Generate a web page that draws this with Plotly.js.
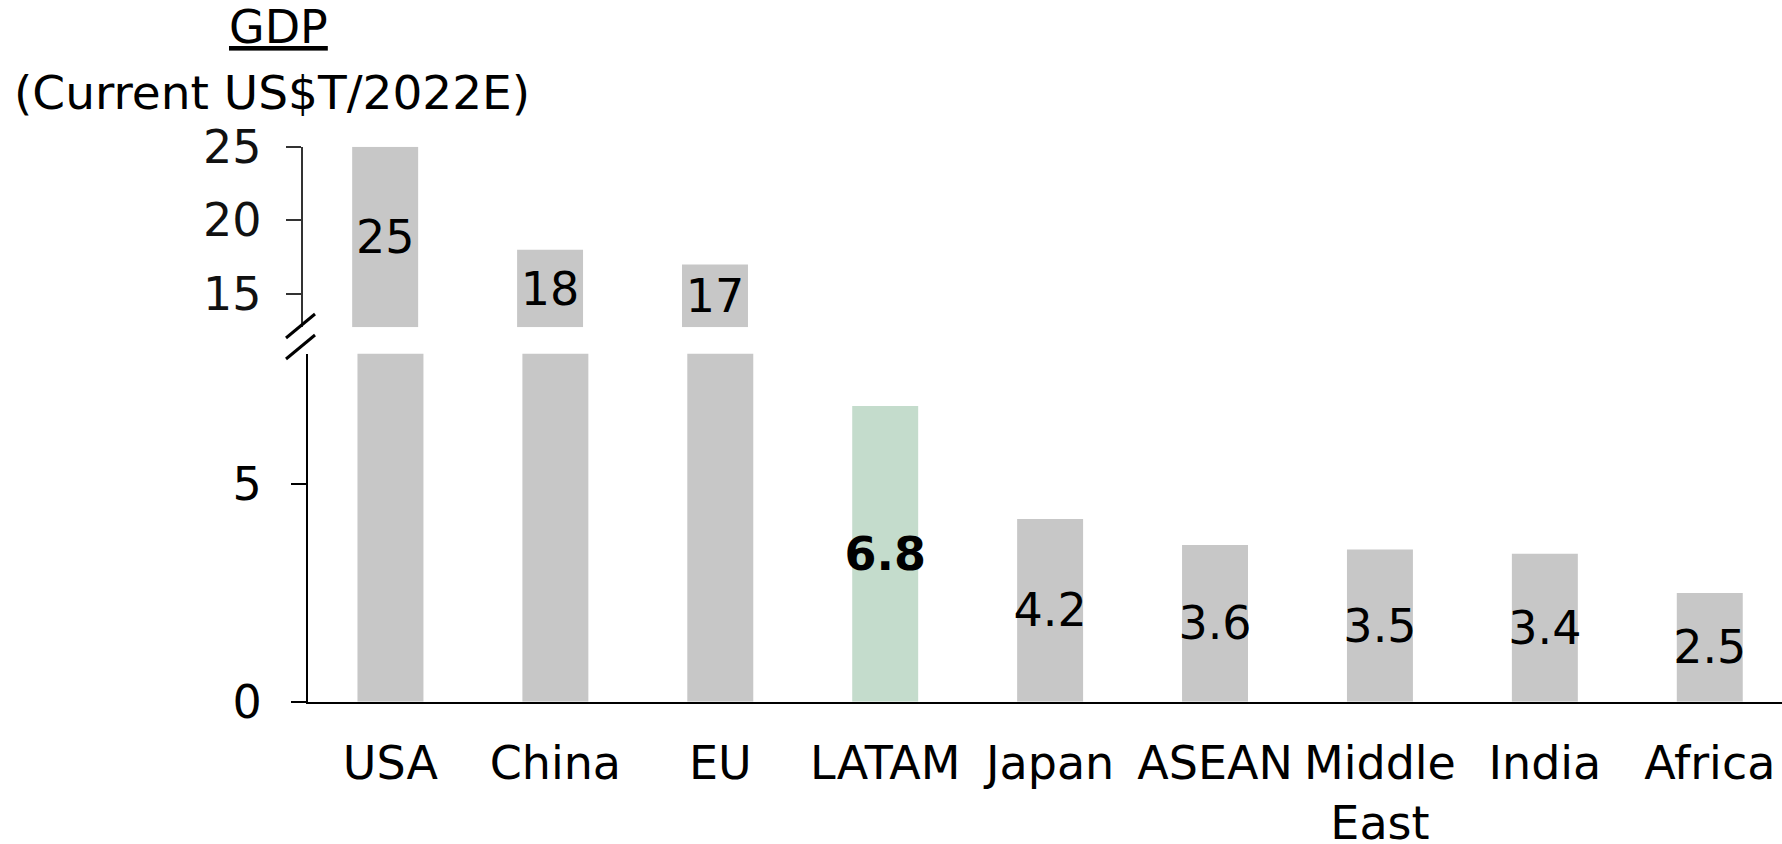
<!DOCTYPE html>
<html>
<head>
<meta charset="utf-8">
<script src="https://cdn.plot.ly/plotly-3.0.1.min.js"></script>
<style>
  html, body { margin: 0; padding: 0; background: #ffffff; }
  #chart { width: 1782px; height: 844px; }
</style>
</head>
<body>
<div id="chart"></div>
<script>
  // data
  const REGIONS = ["USA", "China", "EU", "LATAM", "Japan", "ASEAN", "Middle<br>East", "India", "Africa"];
  const GDP = [25, 18, 17, 6.8, 4.2, 3.6, 3.5, 3.4, 2.5];
  const BROKEN = ["USA", "China", "EU"]; // bars that run through the axis break
  const HIGHLIGHT = "LATAM";
  const LOW_TICKS = [0, 5];
  const TOP_TICKS = [15, 20, 25];

  (function () {
    "use strict";

    const W = 1782;
    const H = 844;
    const FONT = "DejaVu Sans, Verdana, sans-serif";
    const GREY = "#c7c7c7";
    const GREEN = "#c4dccc";
    const INK = "#000000";
    const LOW_RANGE = [0, 8];
    const TOP_RANGE = [12.74, 25];

    // pixel helpers for paper coordinates
    const px = (x) => x / W;
    const py = (y) => 1 - y / H;

    const isBroken = (r) => BROKEN.indexOf(r) >= 0;
    const label = (r, v) => (isBroken(r) ? "" : r === HIGHLIGHT ? "<b>" + v + "</b>" : String(v));

    const barText = {
      textposition: "inside",
      insidetextanchor: "middle",
      constraintext: "none",
      textangle: 0,
      insidetextfont: { family: FONT, size: 46, color: INK },
      hoverinfo: "skip"
    };

    const lower = Object.assign({
      type: "bar",
      x: REGIONS,
      y: GDP,
      width: 0.4,
      marker: { color: REGIONS.map((r) => (r === HIGHLIGHT ? GREEN : GREY)) },
      text: REGIONS.map((r, i) => label(r, GDP[i])),
      xaxis: "x",
      yaxis: "y"
    }, barText);

    // upper panel: bars start at the bottom of the cut axis so the labels sit in the visible part
    const upperVals = BROKEN.map((r) => GDP[REGIONS.indexOf(r)]);
    const upper = Object.assign({
      type: "bar",
      x: BROKEN,
      y: upperVals.map((v) => v - TOP_RANGE[0]),
      base: TOP_RANGE[0],
      width: 0.4,
      marker: { color: GREY },
      text: upperVals.map(String),
      xaxis: "x2",
      yaxis: "y2"
    }, barText);

    const catAxis = {
      type: "category",
      categoryorder: "array",
      categoryarray: REGIONS,
      range: [-0.5, 8.438],
      fixedrange: true
    };

    const layout = {
      width: W,
      height: H,
      autosize: false,
      margin: { l: 0, r: 0, t: 0, b: 0 },
      paper_bgcolor: "#ffffff",
      plot_bgcolor: "#ffffff",
      showlegend: false,
      font: { family: FONT, size: 46, color: INK },
      xaxis: Object.assign({}, catAxis, {
        domain: [px(308), 1],
        anchor: "y",
        showline: true,
        linecolor: INK,
        linewidth: 2,
        ticks: "",
        ticklabelstandoff: 20,
        tickfont: { family: FONT, size: 46, color: INK }
      }),
      yaxis: {
        domain: [py(701.7), py(353.7)],
        range: LOW_RANGE,
        anchor: "x",
        tickvals: LOW_TICKS,
        ticks: "outside",
        ticklen: 15,
        tickwidth: 2,
        tickcolor: INK,
        showline: true,
        linecolor: INK,
        linewidth: 2,
        showgrid: false,
        zeroline: false,
        ticklabelstandoff: 20,
        tickfont: { family: FONT, size: 46, color: INK },
        fixedrange: true
      },
      xaxis2: Object.assign({}, catAxis, {
        domain: [px(302.7), px(W - 5.3)],
        anchor: "y2",
        showline: false,
        showticklabels: false,
        ticks: ""
      }),
      yaxis2: {
        domain: [py(327.3), py(146.7)],
        range: TOP_RANGE,
        anchor: "x2",
        tickvals: TOP_TICKS,
        ticks: "outside",
        ticklen: 15,
        tickwidth: 2,
        tickcolor: "#333333",
        showline: true,
        linecolor: "#333333",
        linewidth: 2,
        showgrid: false,
        zeroline: false,
        ticklabelstandoff: 15,
        tickfont: { family: FONT, size: 46, color: "#111111" },
        fixedrange: true
      },
      shapes: [
        // axis break marks
        { type: "line", xref: "paper", yref: "paper", x0: px(286), y0: py(338), x1: px(315), y1: py(314), line: { color: INK, width: 3 } },
        { type: "line", xref: "paper", yref: "paper", x0: px(286), y0: py(359), x1: px(315), y1: py(335), line: { color: INK, width: 3 } }
      ],
      annotations: [
        {
          text: "<u>GDP</u>",
          xref: "paper", yref: "paper",
          x: px(278.7), y: py(27),
          xanchor: "center", yanchor: "middle",
          showarrow: false,
          font: { family: FONT, size: 46, color: INK }
        },
        {
          text: "(Current US$T/2022E)",
          xref: "paper", yref: "paper",
          x: px(272), y: py(92),
          xanchor: "center", yanchor: "middle",
          showarrow: false,
          font: { family: FONT, size: 47, color: INK }
        }
      ]
    };

    Plotly.newPlot("chart", [lower, upper], layout, { displayModeBar: false, staticPlot: true });
  })();
</script>
</body>
</html>
